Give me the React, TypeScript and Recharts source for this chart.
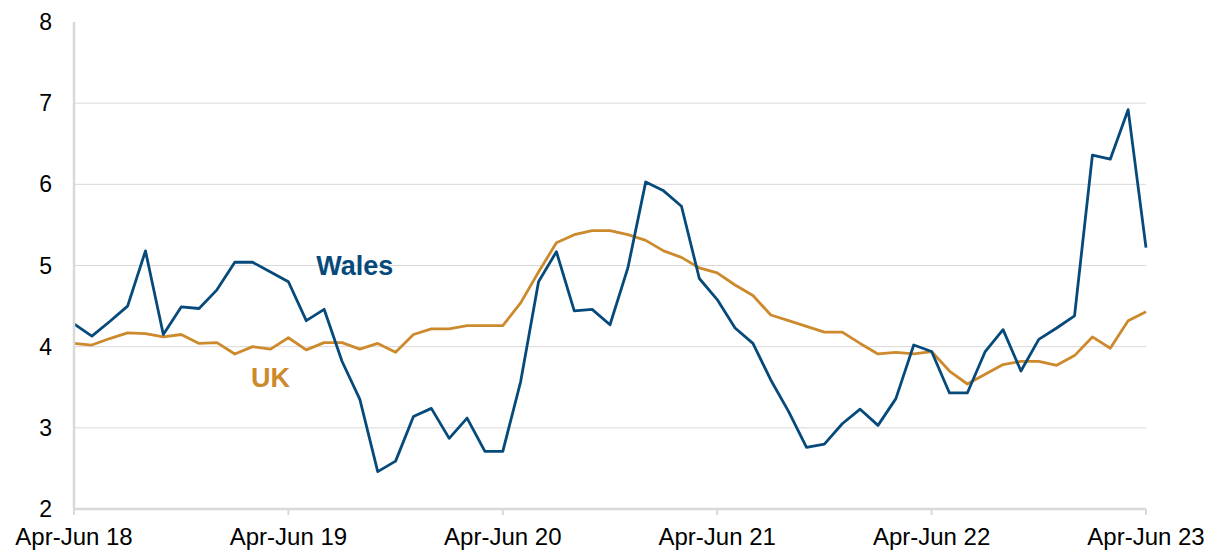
import { LineChart, Line, XAxis, YAxis, CartesianGrid, ReferenceDot } from "recharts";

const periods = [
  "Apr-Jun 18", "May-Jul 18", "Jun-Aug 18", "Jul-Sep 18", "Aug-Oct 18", "Sep-Nov 18",
  "Oct-Dec 18", "Nov-Jan 19", "Dec-Feb 19", "Jan-Mar 19", "Feb-Apr 19", "Mar-May 19",
  "Apr-Jun 19", "May-Jul 19", "Jun-Aug 19", "Jul-Sep 19", "Aug-Oct 19", "Sep-Nov 19",
  "Oct-Dec 19", "Nov-Jan 20", "Dec-Feb 20", "Jan-Mar 20", "Feb-Apr 20", "Mar-May 20",
  "Apr-Jun 20", "May-Jul 20", "Jun-Aug 20", "Jul-Sep 20", "Aug-Oct 20", "Sep-Nov 20",
  "Oct-Dec 20", "Nov-Jan 21", "Dec-Feb 21", "Jan-Mar 21", "Feb-Apr 21", "Mar-May 21",
  "Apr-Jun 21", "May-Jul 21", "Jun-Aug 21", "Jul-Sep 21", "Aug-Oct 21", "Sep-Nov 21",
  "Oct-Dec 21", "Nov-Jan 22", "Dec-Feb 22", "Jan-Mar 22", "Feb-Apr 22", "Mar-May 22",
  "Apr-Jun 22", "May-Jul 22", "Jun-Aug 22", "Jul-Sep 22", "Aug-Oct 22", "Sep-Nov 22",
  "Oct-Dec 22", "Nov-Jan 23", "Dec-Feb 23", "Jan-Mar 23", "Feb-Apr 23", "Mar-May 23",
  "Apr-Jun 23",
];

const wales = [
  4.28, 4.13, 4.31, 4.50, 5.18, 4.15, 4.49, 4.47, 4.70, 5.04, 5.04, 4.92,
  4.80, 4.32, 4.46, 3.82, 3.35, 2.46, 2.59, 3.14, 3.24, 2.87, 3.12, 2.71,
  2.71, 3.57, 4.80, 5.17, 4.44, 4.46, 4.27, 4.97, 6.03, 5.92, 5.73, 4.84,
  4.58, 4.23, 4.04, 3.59, 3.20, 2.76, 2.80, 3.05, 3.23, 3.03, 3.36, 4.02,
  3.94, 3.43, 3.43, 3.94, 4.21, 3.70, 4.09, 4.23, 4.38, 6.36, 6.31, 6.92,
  5.22,
];

const uk = [
  4.04, 4.02, 4.10, 4.17, 4.16, 4.12, 4.15, 4.04, 4.05, 3.91, 4.00, 3.97,
  4.11, 3.96, 4.05, 4.05, 3.97, 4.04, 3.93, 4.15, 4.22, 4.22, 4.26, 4.26,
  4.26, 4.54, 4.92, 5.28, 5.38, 5.43, 5.43, 5.38, 5.31, 5.18, 5.10, 4.97,
  4.91, 4.76, 4.63, 4.39, 4.32, 4.25, 4.18, 4.18, 4.04, 3.91, 3.93, 3.91,
  3.94, 3.70, 3.54, 3.66, 3.78, 3.82, 3.82, 3.77, 3.89, 4.12, 3.98, 4.32,
  4.43,
];

const yTicks = [2, 3, 4, 5, 6, 7, 8];
const gridValues = [3, 4, 5, 6, 7];

const WALES = "#064a7b";
const UK = "#cd8a2d";
const FONT = "'Liberation Sans', Arial, sans-serif";

const data = periods.map((p, i) => ({ p, wales: wales[i], uk: uk[i] }));

function SeriesLabel({ text, color, dx }: { text: string; color: string; dx: number }) {
  return (props: any) => {
    const vb = props.viewBox || {};
    const cx = (vb.x ?? 0) + (vb.width ?? 0) / 2 + dx;
    const cy = (vb.y ?? 0) + (vb.height ?? 0) / 2;
    return (
      <text x={cx} y={cy} textAnchor="middle" dominantBaseline="central" fill={color} fontSize={27} fontWeight="bold" fontFamily={FONT}>
        {text}
      </text>
    );
  };
}

export default function App() {
  return (
    <div style={{ position: "absolute", left: 0, top: 0, width: 1216, height: 551, background: "#fff" }}>
      <LineChart width={1216} height={551} data={data} margin={{ top: 22, right: 70, left: 14, bottom: 4 }}>
        <CartesianGrid vertical={false} horizontalValues={gridValues} stroke="#d9d9d9" strokeWidth={1} />
        <XAxis
          dataKey="p"
          interval={11}
          axisLine={{ stroke: "#d9d9d9", strokeWidth: 2.5 }}
          tickLine={{ stroke: "#d9d9d9", strokeWidth: 2 }}
          tickSize={6}
          tickMargin={13}
          height={38}
          tick={{ fill: "#000", fontSize: 24, fontFamily: FONT }}
        />
        <YAxis
          domain={[2, 8]}
          ticks={yTicks}
          width={60}
          axisLine={{ stroke: "#d9d9d9", strokeWidth: 2.5 }}
          tickLine={false}
          tickMargin={16}
          tick={{ fill: "#000", fontSize: 23, fontFamily: FONT }}
        />
        <Line dataKey="uk" stroke={UK} strokeWidth={2.8} dot={false} isAnimationActive={false} strokeLinejoin="round" />
        <Line dataKey="wales" stroke={WALES} strokeWidth={2.8} dot={false} isAnimationActive={false} strokeLinejoin="round" />
        <ReferenceDot x={periods[16]} y={5.0} r={0} stroke="none" fill="none" label={SeriesLabel({ text: "Wales", color: WALES, dx: -5 })} />
        <ReferenceDot x={periods[11]} y={3.61} r={0} stroke="none" fill="none" label={SeriesLabel({ text: "UK", color: UK, dx: 0 })} />
      </LineChart>
    </div>
  );
}
